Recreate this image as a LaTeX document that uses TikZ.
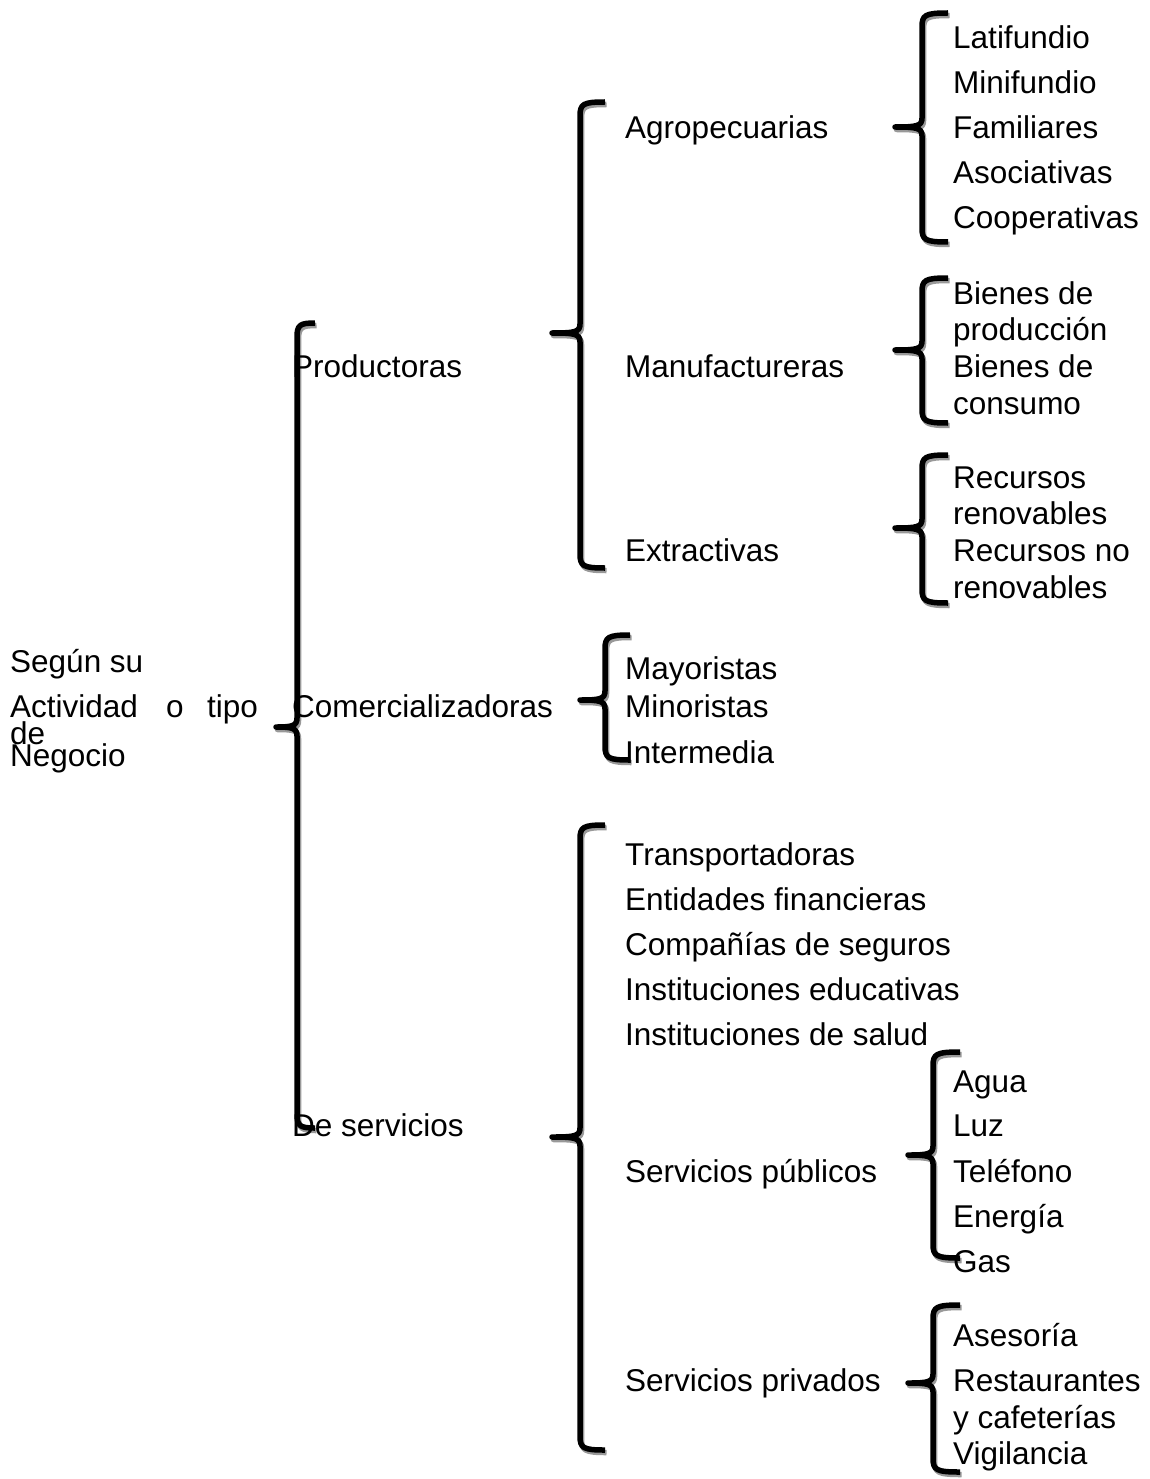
\documentclass[tikz,border=0pt]{standalone}
\usepackage{fontspec}
\setmainfont{Liberation Sans}
\begin{document}
\begin{tikzpicture}[x=1pt,y=-1pt,
  lbl/.style={anchor=base west,inner sep=0pt,font=\fontsize{31.5}{37}\selectfont},
  braceline/.style={line width=5.5pt,black,line join=round},
  shadowline/.style={line width=5.5pt,black!40,line join=round}]
\useasboundingbox[fill=white] (0,0) rectangle (1150,1479);
\newcommand\mybrace[6]{%
 \draw[shadowline,shift={(1.5,2.5)}] (#6,#2) .. controls ({#1+3},#2) and (#1,{#2+2}) .. (#1,{#2+14}) -- (#1,{#3-9}) .. controls (#1,{#3-1}) and ({#1-5},#3) .. (#5,#3) .. controls ({#1-5},#3) and (#1,{#3+1}) .. (#1,{#3+9}) -- (#1,{#4-14}) .. controls (#1,{#4-2}) and ({#1+3},#4) .. (#6,#4);
 \draw[braceline] (#6,#2) .. controls ({#1+3},#2) and (#1,{#2+2}) .. (#1,{#2+14}) -- (#1,{#3-9}) .. controls (#1,{#3-1}) and ({#1-5},#3) .. (#5,#3) .. controls ({#1-5},#3) and (#1,{#3+1}) .. (#1,{#3+9}) -- (#1,{#4-14}) .. controls (#1,{#4-2}) and ({#1+3},#4) .. (#6,#4);}
% braces
\mybrace{297}{323}{727}{1128}{276}{315}
\mybrace{580}{102}{333}{568}{552}{605}
\mybrace{922}{13}{127}{242}{895}{948}
\mybrace{922}{278}{350}{423}{895}{948}
\mybrace{922}{455}{528}{603}{895}{948}
\mybrace{605}{635}{700}{760}{580}{630}
\mybrace{580}{825}{1137}{1450}{552}{605}
\mybrace{933}{1052}{1155}{1258}{908}{960}
\mybrace{933}{1305}{1383}{1472}{908}{960}
% root text
\node[lbl] (r1) at (10,672) {Según su};
\node[lbl] (r2a) at (10,717) {Actividad};
\node[lbl] (r2b) at (166,717) {o};
\node[lbl] (r2c) at (207,717) {tipo};
\node[lbl] (r3) at (10,744) {de};
\node[lbl] (r4) at (10,766) {Negocio};
% level 2
\node[lbl] (prod) at (292,377) {Productoras};
\node[lbl] (com) at (292,717) {Comercializadoras};
\node[lbl] (serv) at (292,1136) {De servicios};
% level 3
\node[lbl] (agro) at (625,139) {Agropecuarias};
\node[lbl] (manu) at (625,377) {Manufactureras};
\node[lbl] (extr) at (625,561) {Extractivas};
\node[lbl] (mayo) at (625,679) {Mayoristas};
\node[lbl] (mino) at (625,717) {Minoristas};
\node[lbl] (inte) at (625,763) {Intermedia};
\node[lbl] (tran) at (625,865) {Transportadoras};
\node[lbl] (enti) at (625,910) {Entidades financieras};
\node[lbl] (segu) at (625,955) {Compañías de seguros};
\node[lbl] (educ) at (625,1000) {Instituciones educativas};
\node[lbl] (salu) at (625,1045) {Instituciones de salud};
\node[lbl] (publ) at (625,1182) {Servicios públicos};
\node[lbl] (priv) at (625,1391) {Servicios privados};
% level 4
\node[lbl] (lati) at (953,49) {Latifundio};
\node[lbl] (mini) at (953,94) {Minifundio};
\node[lbl] (fami) at (953,139) {Familiares};
\node[lbl] (asoc) at (953,184) {Asociativas};
\node[lbl] (coop) at (953,229) {Cooperativas};
\node[lbl] (bp1) at (953,304) {Bienes de};
\node[lbl] (bp2) at (953,340) {producción};
\node[lbl] (bc1) at (953,377) {Bienes de};
\node[lbl] (bc2) at (953,414) {consumo};
\node[lbl] (rr1) at (953,488) {Recursos};
\node[lbl] (rr2) at (953,524) {renovables};
\node[lbl] (rn1) at (953,561) {Recursos no};
\node[lbl] (rn2) at (953,598) {renovables};
\node[lbl] (agua) at (953,1092) {Agua};
\node[lbl] (luz) at (953,1136) {Luz};
\node[lbl] (tele) at (953,1182) {Teléfono};
\node[lbl] (ener) at (953,1227) {Energía};
\node[lbl] (gas) at (953,1272) {Gas};
\node[lbl] (ases) at (953,1346) {Asesoría};
\node[lbl] (rest) at (953,1391) {Restaurantes};
\node[lbl] (cafe) at (953,1428) {y cafeterías};
\node[lbl] (vigi) at (953,1464) {Vigilancia};
\end{tikzpicture}
\end{document}
